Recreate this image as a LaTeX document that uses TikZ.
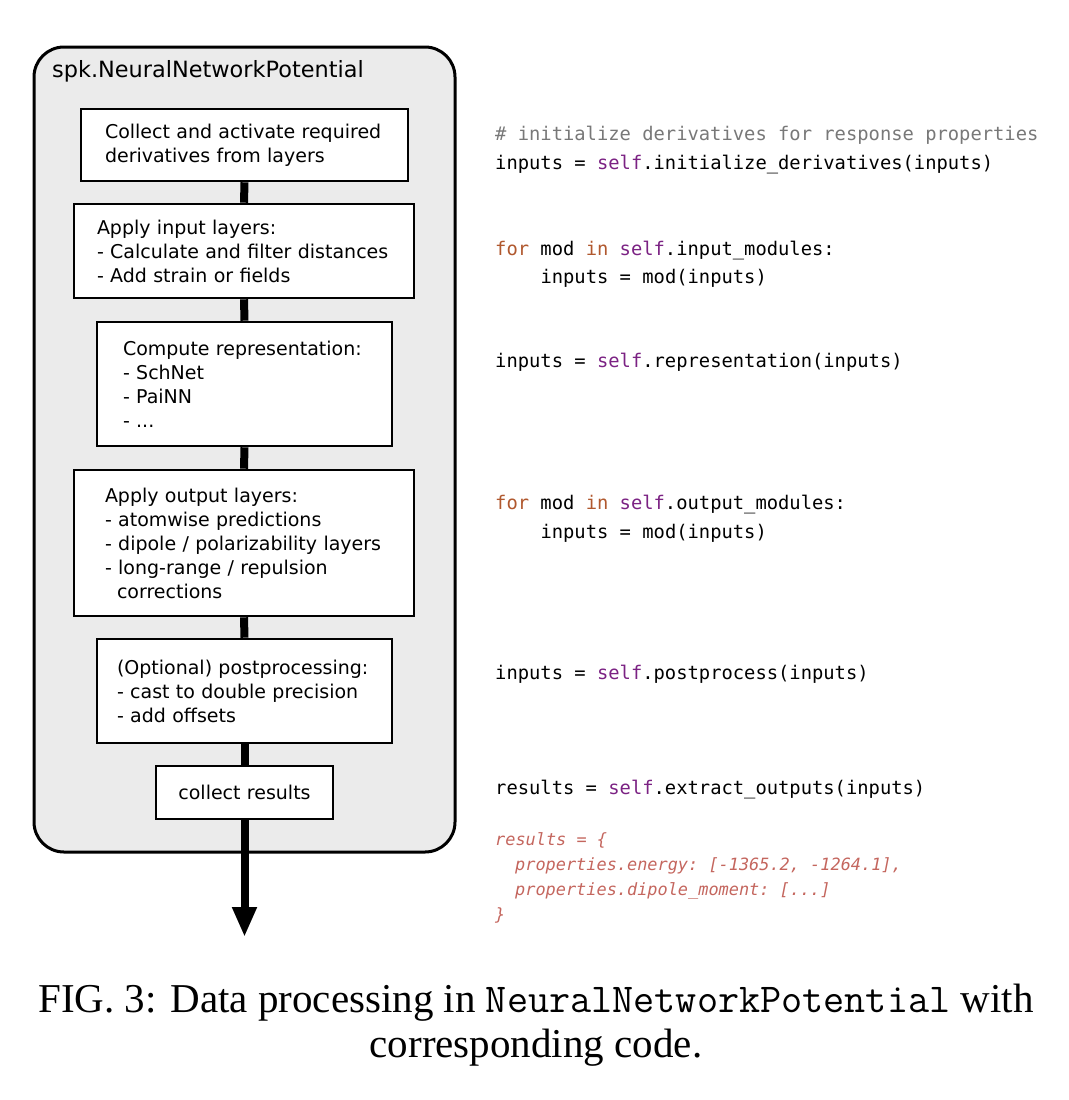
\documentclass[tikz,border=0pt]{standalone}
\usepackage{fontspec}
\setmainfont{Liberation Serif}
\newfontfamily\dvs{DejaVu Sans}
\newfontfamily\dvm{DejaVu Sans Mono}
\usetikzlibrary{arrows.meta}
\definecolor{framefill}{HTML}{EBEBEB}
\definecolor{kwc}{HTML}{B0582E}
\definecolor{selfc}{HTML}{7B2283}
\definecolor{cmtc}{HTML}{787878}
\definecolor{resc}{HTML}{C4665E}
\begin{document}
\begin{tikzpicture}[x=1pt,y=-1pt,
  framebox/.style={draw, line width=3pt, fill=framefill, rounded corners=30pt, inner sep=0pt},
  stepbox/.style={draw, line width=2.6pt, fill=white, inner xsep=0pt, inner ysep=0pt,
    align=left, font=\dvs\fontsize{19}{24}\selectfont},
  flow/.style={line width=8pt},
  code/.style={anchor=base west, inner sep=0pt, font=\dvm\fontsize{18.8}{24}\selectfont\frenchspacing},
  rescode/.style={code, text=resc, font=\dvm\itshape\fontsize{16.9}{24}\selectfont\frenchspacing},
  caption/.style={anchor=base, inner sep=0pt, font=\fontsize{41}{46}\selectfont}]
\useasboundingbox (0,0) rectangle (1068,1100);

\node[framebox, minimum width=421pt, minimum height=805pt] (frame) at (244.5,449.5) {};
\node[anchor=base west, inner sep=0pt, font=\dvs\fontsize{22.4}{24}\selectfont] (title) at (52,77) {spk.NeuralNetworkPotential};

\node[stepbox, text width=327pt, minimum height=72pt] (b1) at (244.5,145)
  {\leftskip=24pt Collect and activate required\\derivatives from layers\par};
\node[stepbox, text width=340pt, minimum height=94pt] (b2) at (244,251)
  {\leftskip=23pt Apply input layers:\\- Calculate and filter distances\\- Add strain or fields\par};
\node[stepbox, text width=295pt, minimum height=124pt] (b3) at (244.5,384)
  {\leftskip=26pt Compute representation:\\- SchNet\\- PaiNN\\- ...\par};
\node[stepbox, text width=340pt, minimum height=146pt] (b4) at (244,543)
  {\leftskip=31pt Apply output layers:\\- atomwise predictions\\- dipole / polarizability layers\\- long-range / repulsion\\\hspace*{12pt}corrections\par};
\node[stepbox, text width=295pt, minimum height=104pt] (b5) at (244.5,691)
  {\leftskip=20pt (Optional) postprocessing:\\- cast to double precision\\- add offsets\par};
\node[stepbox, align=center, text width=177pt, minimum height=53pt] (b6) at (244.5,792.5)
  {collect results};

\coordinate (tip) at (244.5,937);
\draw[flow] (b1.south) -- (b2.north);
\draw[flow] (b2.south) -- (b3.north);
\draw[flow] (b3.south) -- (b4.north);
\draw[flow] (b4.south) -- (b5.north);
\draw[flow] (b5.south) -- (b6.north);
\draw[flow, -{Triangle[width=23pt,length=30pt]}] (b6.south) -- (tip);

\node[code, text=cmtc] (c1) at (495,140) {\# initialize derivatives for response properties};
\node[code] (c2) at (495,169) {inputs = {\color{selfc}self}.initialize\_derivatives(inputs)};
\node[code] (c3) at (495,255) {{\color{kwc}for} mod {\color{kwc}in} {\color{selfc}self}.input\_modules:};
\node[code] (c4) at (540.3,283) {inputs = mod(inputs)};
\node[code] (c5) at (495,367) {inputs = {\color{selfc}self}.representation(inputs)};
\node[code] (c6) at (495,509) {{\color{kwc}for} mod {\color{kwc}in} {\color{selfc}self}.output\_modules:};
\node[code] (c7) at (540.3,538) {inputs = mod(inputs)};
\node[code] (c8) at (495,679) {inputs = {\color{selfc}self}.postprocess(inputs)};
\node[code] (c9) at (495,794) {results = {\color{selfc}self}.extract\_outputs(inputs)};
\node[rescode] (r1) at (495,845) {results = \{};
\node[rescode] (r2) at (515,870) {properties.energy: [-1365.2, -1264.1],};
\node[rescode] (r3) at (515,895) {properties.dipole\_moment: [...]};
\node[rescode] (r4) at (495,920) {\}};

\node[caption] (cap1) at (536,1012) {FIG. 3: Data processing in \texttt{NeuralNetworkPotential} with};
\node[caption] (cap2) at (536,1057) {corresponding code.};
\end{tikzpicture}
\end{document}
